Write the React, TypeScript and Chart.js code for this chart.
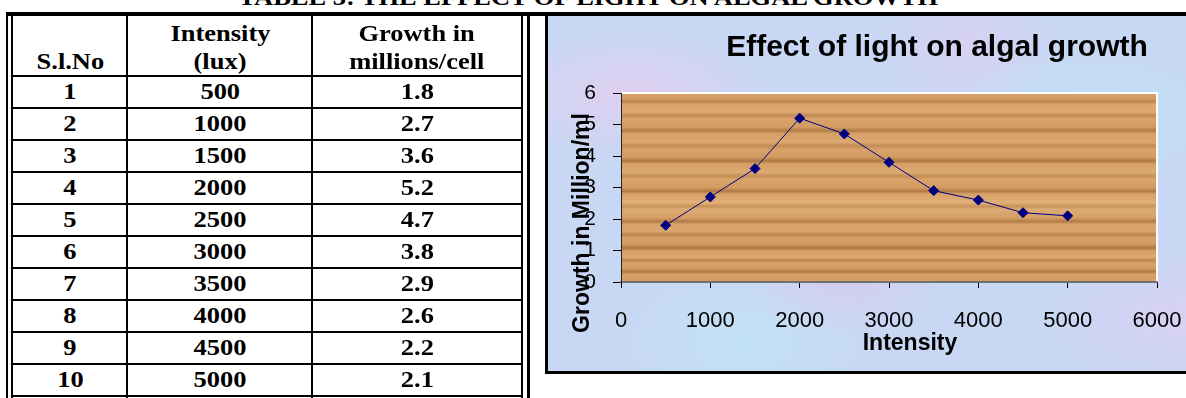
import React, { useEffect, useRef } from 'react';
import { Chart, registerables } from 'chart.js';

Chart.register(...registerables);

// ---------- data ----------
const serialNumbers = [1, 2, 3, 4, 5, 6, 7, 8, 9, 10];
const intensityLux = [500, 1000, 1500, 2000, 2500, 3000, 3500, 4000, 4500, 5000];
const growthMillions = [1.8, 2.7, 3.6, 5.2, 4.7, 3.8, 2.9, 2.6, 2.2, 2.1];
const xTickMin = 0;
const xTickMax = 6000;
const xTickStep = 1000;
const yTickMin = 0;
const yTickMax = 6;
const yTickStep = 1;
const tableTitle = 'TABLE 3: THE EFFECT OF LIGHT ON ALGAL GROWTH';
const headerSerial = ['S.l.No'];
const headerIntensity = ['Intensity', '(lux)'];
const headerGrowth = ['Growth in', 'millions/cell'];
const chartTitle = 'Effect of light on algal growth';
const xAxisTitle = 'Intensity';
const yAxisTitle = 'Growth in Million/ml';

// ---------- styles ----------
const SERIF = '"Liberation Serif", "Times New Roman", Times, serif';
const SANS = '"Liberation Sans", Arial, Helvetica, sans-serif';
const colCenters = [70, 220, 417];
const rowTop0 = 76;
const rowH = 32;
const textShift = 3;

const woodStops: [number, string][] = [
  [0, '#d9a46d'], [0.03, '#d3995f'], [0.045, '#b98650'], [0.06, '#d9a46d'],
  [0.1, '#dcaa72'], [0.12, '#c08a52'], [0.135, '#d8a26a'], [0.18, '#d49c63'],
  [0.2, '#b27c47'], [0.215, '#d7a068'], [0.26, '#dba870'], [0.28, '#c18b54'],
  [0.3, '#d8a26a'], [0.34, '#d29a61'], [0.36, '#ad7843'], [0.375, '#d6a067'],
  [0.42, '#dcaa73'], [0.44, '#c28c55'], [0.455, '#d9a46c'], [0.5, '#d39b62'],
  [0.52, '#b07a45'], [0.535, '#d7a169'], [0.58, '#e0b07a'], [0.6, '#c89258'],
  [0.615, '#dcab74'], [0.66, '#d7a068'], [0.68, '#b27c47'], [0.695, '#d8a26a'],
  [0.73, '#dba872'], [0.75, '#ba8450'], [0.765, '#d6a068'], [0.8, '#d29a60'],
  [0.82, '#aa7542'], [0.835, '#d5a067'], [0.87, '#dca971'], [0.885, '#b8834e'],
  [0.9, '#d8a36b'], [0.93, '#d19960'], [0.945, '#ad7844'], [0.96, '#d7a169'],
  [1, '#d49d64'],
];

const line = (left: number, top: number, width: number, height: number) => (
  <div style={{ position: 'absolute', left, top, width, height, background: '#000' }} />
);

const Txt = ({ cx, top, lh, children }: { cx: number; top: number; lh: number; children: React.ReactNode }) => (
  <div
    style={{
      position: 'absolute',
      left: cx - 200,
      width: 400,
      top,
      height: lh,
      lineHeight: `${lh}px`,
      textAlign: 'center',
      font: `bold 23px ${SERIF}`,
      whiteSpace: 'nowrap',
      color: '#000',
    }}
  >
    <span style={{ display: 'inline-block', transform: 'scaleX(1.15)' }}>{children}</span>
  </div>
);

export default function App() {
  const canvasRef = useRef<HTMLCanvasElement>(null);

  useEffect(() => {
    document.body.style.margin = '0';
    const canvas = canvasRef.current!;
    const decor = {
      id: 'decor',
      beforeDraw(chart: any) {
        const { ctx, chartArea: a } = chart;
        ctx.save();
        const g = ctx.createLinearGradient(0, a.top, 0, a.bottom);
        woodStops.forEach(([p, c]) => g.addColorStop(p, c));
        ctx.fillStyle = g;
        ctx.fillRect(a.left, a.top, a.right - a.left, a.bottom - a.top);
        ctx.strokeStyle = '#ffffff';
        ctx.lineWidth = 2;
        ctx.beginPath();
        ctx.moveTo(a.left, a.top);
        ctx.lineTo(a.right, a.top);
        ctx.lineTo(a.right, a.bottom);
        ctx.stroke();
        ctx.restore();
      },
      afterDraw(chart: any) {
        const { ctx } = chart;
        ctx.save();
        ctx.fillStyle = '#000';
        ctx.textAlign = 'center';
        ctx.font = `bold 30px ${SANS}`;
        ctx.textBaseline = 'alphabetic';
        ctx.fillText(chartTitle, 389, 40);
        ctx.font = `bold 23px ${SANS}`;
        ctx.textBaseline = 'middle';
        ctx.fillText(xAxisTitle, 362, 328);
        ctx.translate(35, 207);
        ctx.rotate(-Math.PI / 2);
        ctx.fillText(yAxisTitle, 0, 0);
        ctx.restore();
      },
    };

    const chart = new Chart(canvas, {
      type: 'scatter',
      data: {
        datasets: [
          {
            data: intensityLux.map((x, i) => ({ x, y: growthMillions[i] })),
            showLine: true,
            borderColor: '#000080',
            borderWidth: 1,
            pointStyle: 'rectRot',
            pointRadius: 5,
            pointBackgroundColor: '#000080',
            pointBorderColor: '#000080',
            pointBorderWidth: 1,
          },
        ],
      },
      options: {
        animation: false,
        responsive: false,
        maintainAspectRatio: false,
        layout: { padding: { top: 77, right: 29, bottom: 29, left: 0 } },
        plugins: {
          legend: { display: false },
          title: { display: false },
          tooltip: { enabled: false },
        },
        scales: {
          x: {
            type: 'linear',
            min: xTickMin,
            max: xTickMax,
            ticks: {
              stepSize: xTickStep,
              color: '#000',
              font: { family: SANS, size: 22 },
              padding: 20,
              maxRotation: 0,
              autoSkip: false,
              callback: (v: any) => String(v),
            },
            grid: { drawOnChartArea: false, drawTicks: true, tickLength: 6, color: '#000', lineWidth: 1 },
            border: { color: '#707070', width: 2 },
            afterFit: (s: any) => {
              s.height = 60;
              s.paddingLeft = 0;
              s.paddingRight = 0;
            },
          },
          y: {
            type: 'linear',
            min: yTickMin,
            max: yTickMax,
            ticks: {
              stepSize: yTickStep,
              color: '#000',
              font: { family: SANS, size: 21 },
              padding: 17,
              callback: (v: any) => String(v),
            },
            grid: { drawOnChartArea: false, drawTicks: true, tickLength: 8, color: '#000', lineWidth: 1 },
            border: { color: '#202020', width: 1 },
            afterFit: (s: any) => {
              s.width = 73;
              s.paddingTop = 0;
              s.paddingBottom = 0;
            },
          },
        },
      },
      plugins: [decor],
    } as any);
    return () => chart.destroy();
  }, []);

  const rows = serialNumbers.map((n, i) => {
    const top = rowTop0 + i * rowH + textShift;
    return (
      <React.Fragment key={n}>
        <Txt cx={colCenters[0]} top={top} lh={rowH}>{n}</Txt>
        <Txt cx={colCenters[1]} top={top} lh={rowH}>{intensityLux[i]}</Txt>
        <Txt cx={colCenters[2]} top={top} lh={rowH}>{growthMillions[i].toFixed(1)}</Txt>
      </React.Fragment>
    );
  });

  const rowLines = serialNumbers.map((n, i) => (
    <React.Fragment key={'l' + n}>{line(13, rowTop0 + (i + 1) * rowH - 1, 508, 2)}</React.Fragment>
  ));

  const panelBg =
    'radial-gradient(ellipse at 12% 22%, rgba(230,205,240,0.8) 0, rgba(230,205,240,0) 16%),' +
    'radial-gradient(ellipse at 42% 72%, rgba(218,200,240,0.75) 0, rgba(218,200,240,0) 18%),' +
    'radial-gradient(ellipse at 78% 28%, rgba(190,226,246,0.85) 0, rgba(190,226,246,0) 20%),' +
    'radial-gradient(ellipse at 28% 92%, rgba(192,230,246,0.75) 0, rgba(192,230,246,0) 18%),' +
    'radial-gradient(ellipse at 92% 85%, rgba(225,205,242,0.7) 0, rgba(225,205,242,0) 16%),' +
    'radial-gradient(ellipse at 60% 8%, rgba(222,206,242,0.7) 0, rgba(222,206,242,0) 15%),' +
    '#c8d7f3';

  return (
    <div style={{ position: 'fixed', left: 0, top: 0, width: 1186, height: 398, overflow: 'hidden', background: '#fff' }}>
      {/* table title */}
      <div
        style={{
          position: 'absolute',
          left: 588 - 500,
          width: 1000,
          top: -15,
          height: 28,
          lineHeight: '28px',
          textAlign: 'center',
          font: `bold 23px ${SERIF}`,
          whiteSpace: 'nowrap',
        }}
      >
        <span style={{ display: 'inline-block', transform: 'scaleX(1.15)' }}>{tableTitle}</span>
      </div>

      {/* chart panel */}
      <div style={{ position: 'absolute', left: 548, top: 16, width: 700, height: 355, background: panelBg }} />
      <canvas
        ref={canvasRef}
        width={638}
        height={355}
        style={{ position: 'absolute', left: 548, top: 16, width: 638, height: 355 }}
      />
      {line(545, 12, 3, 362)}
      {line(545, 371, 700, 3)}

      {/* table lines */}
      {line(6, 12, 1200, 4)}
      {line(6, 12, 2, 390)}
      {line(11, 12, 2, 390)}
      {line(126, 16, 2, 384)}
      {line(311, 16, 2, 384)}
      {line(521, 12, 2, 390)}
      {line(527, 12, 3, 390)}
      {line(13, 75, 508, 2)}
      {rowLines}

      {/* header */}
      <Txt cx={colCenters[0]} top={49} lh={28}>{headerSerial[0]}</Txt>
      <Txt cx={colCenters[1]} top={21} lh={28}>{headerIntensity[0]}</Txt>
      <Txt cx={colCenters[1]} top={49} lh={28}>{headerIntensity[1]}</Txt>
      <Txt cx={colCenters[2]} top={21} lh={28}>{headerGrowth[0]}</Txt>
      <Txt cx={colCenters[2]} top={49} lh={28}>{headerGrowth[1]}</Txt>
      {rows}
    </div>
  );
}
